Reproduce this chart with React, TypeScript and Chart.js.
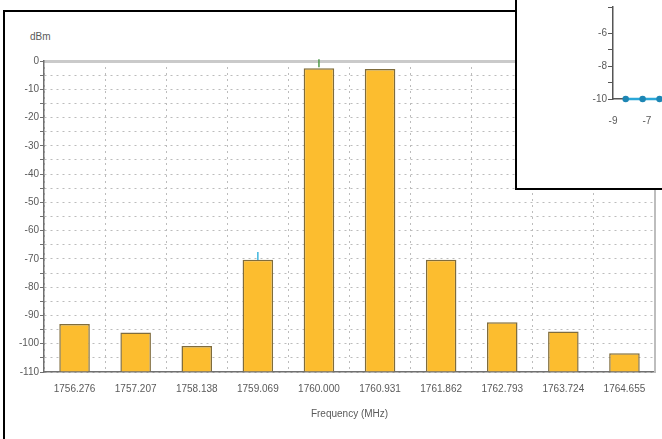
import React, { useEffect, useRef } from 'react';
import { Chart, registerables } from 'chart.js';

Chart.register(...registerables);

// ---- Main chart data ----
const frequencies: string[] = [
  '1756.276', '1757.207', '1758.138', '1759.069', '1760.000',
  '1760.931', '1761.862', '1762.793', '1763.724', '1764.655',
];
const levels: number[] = [-93, -96, -100.8, -70.3, -2.6, -2.8, -70.3, -92.4, -95.7, -103.4];
const peakMarkers: (number | null)[] = [null, null, null, -69, -0.8, null, null, null, null, null];
const peakMarkerColors: string[] = ['#000', '#000', '#000', '#3fb6de', '#4f9a4a', '#000', '#000', '#000', '#000', '#000'];
const yMin = -110;
const yMax = 0;
const yStep = 5;

// ---- Inset chart data ----
const insetX: number[] = [-8.25, -7.25, -6.25, -5.25];
const insetY: number[] = [-10, -10, -10, -10];

const FONT = 'Liberation Sans, Arial, sans-serif';
const TXT = '#5a5a5a';

export default function App() {
  const mainRef = useRef<HTMLCanvasElement | null>(null);
  const insetRef = useRef<HTMLCanvasElement | null>(null);

  useEffect(() => {
    const main = new Chart(mainRef.current as HTMLCanvasElement, {
      type: 'bar',
      data: {
        labels: frequencies,
        datasets: [
          {
            type: 'line',
            data: peakMarkers,
            showLine: false,
            pointStyle: 'line',
            rotation: 90,
            pointRadius: 4,
            pointBorderWidth: 1.5,
            pointBorderColor: peakMarkerColors,
            pointBackgroundColor: peakMarkerColors,
            order: 1,
            clip: false,
          } as any,
          {
            type: 'bar',
            data: levels,
            base: yMin,
            backgroundColor: '#FCBD2F',
            borderColor: '#7f6c3c',
            borderWidth: 1.5,
            barPercentage: 0.5,
            categoryPercentage: 1,
            order: 2,
          } as any,
        ],
      },
      options: {
        responsive: false,
        animation: false,
        layout: { padding: { top: 61, right: 7, left: 0, bottom: 0 } },
        plugins: { legend: { display: false }, tooltip: { enabled: false } },
        scales: {
          x: {
            position: 'bottom',
            offset: true,
            grid: { offset: true, color: '#bcbcbc', drawTicks: false },
            border: { color: '#707070', width: 1.5, dash: [2, 4] },
            ticks: { autoSkip: false, maxRotation: 0, padding: 11, color: TXT, font: { family: FONT, size: 10 } },
            title: {
              display: true,
              text: 'Frequency (MHz)',
              color: TXT,
              font: { family: FONT, size: 10 },
              padding: { top: 0, bottom: 19 },
            },
            afterFit: (s: any) => { s.height = 67; },
          },
          xTop: {
            type: 'category',
            position: 'top',
            grid: { display: false },
            ticks: { display: false },
            border: { color: '#cacaca', width: 3 },
            afterFit: (s: any) => { s.height = 0; },
          },
          y: {
            min: yMin,
            max: yMax,
            ticks: {
              stepSize: yStep,
              autoSkip: false,
              padding: 1,
              color: TXT,
              font: { family: FONT, size: 10 },
              callback: (v: any) => (Number(v) % 10 === 0 ? String(v) : ''),
            },
            grid: { color: '#bcbcbc', tickColor: '#707070', tickLength: 4, tickBorderDash: [] } as any,
            border: { color: '#707070', width: 1.5, dash: [2, 4] },
            afterFit: (s: any) => { s.width = 44; },
          },
          yRight: {
            position: 'right',
            min: yMin,
            max: yMax,
            grid: { display: false },
            ticks: { display: false },
            border: { color: '#bdbdbd', width: 2 },
            afterFit: (s: any) => { s.width = 0; },
          },
        } as any,
      },
    });

    const inset = new Chart(insetRef.current as HTMLCanvasElement, {
      type: 'line',
      data: {
        datasets: [
          {
            data: insetX.map((x, i) => ({ x, y: insetY[i] })),
            borderColor: '#2aa7d8',
            borderWidth: 2.5,
            pointRadius: 2,
            pointBackgroundColor: '#1d86b4',
            pointBorderColor: '#1d86b4',
            clip: false,
          } as any,
        ],
      },
      options: {
        responsive: false,
        animation: false,
        layout: { padding: 0 },
        plugins: { legend: { display: false }, tooltip: { enabled: false } },
        scales: {
          x: {
            type: 'linear',
            min: -9,
            max: -5.1,
            ticks: {
              stepSize: 1,
              padding: 8,
              color: TXT,
              font: { family: FONT, size: 10 },
              callback: (v: any) => (Number.isInteger(Number(v)) && Math.abs(Number(v)) % 2 === 1 && Number(v) < -6 ? String(v) : ''),
            },
            grid: { display: false },
            border: { color: '#555', width: 1.5 },
            afterFit: (s: any) => { s.height = 89; },
          },
          y: {
            min: -10,
            max: -4.4,
            ticks: {
              stepSize: 1,
              padding: 1,
              color: TXT,
              font: { family: FONT, size: 10 },
              callback: (v: any) => (Number.isInteger(Number(v)) && Number(v) % 2 === 0 ? String(v) : ''),
            },
            grid: { drawOnChartArea: false, tickLength: 5, tickColor: '#555' },
            border: { color: '#555', width: 1.5 },
            afterFit: (s: any) => { s.width = 96; },
          },
        } as any,
      },
    });

    return () => {
      main.destroy();
      inset.destroy();
    };
  }, []);

  return (
    <div style={{ position: 'fixed', left: 0, top: 0, width: 662, height: 439, overflow: 'hidden', background: '#fff' }}>
      <div
        style={{
          position: 'absolute', left: 3, top: 10, width: 800, height: 600,
          border: '2px solid #000', boxSizing: 'border-box',
        }}
      />
      <div
        style={{
          position: 'absolute', left: 30, top: 31, fontFamily: FONT, fontSize: 10,
          lineHeight: '12px', color: TXT,
        }}
      >
        dBm
      </div>
      <canvas
        ref={mainRef}
        width={662}
        height={439}
        style={{ position: 'absolute', left: 0, top: 0, width: 662, height: 439 }}
      />
      <div
        style={{
          position: 'absolute', left: 515, top: -2, width: 200, height: 192,
          border: '2px solid #000', boxSizing: 'border-box', background: '#fff', zIndex: 2,
        }}
      >
        <canvas
          ref={insetRef}
          width={170}
          height={188}
          style={{ position: 'absolute', left: 0, top: 0, width: 170, height: 188 }}
        />
      </div>
    </div>
  );
}
